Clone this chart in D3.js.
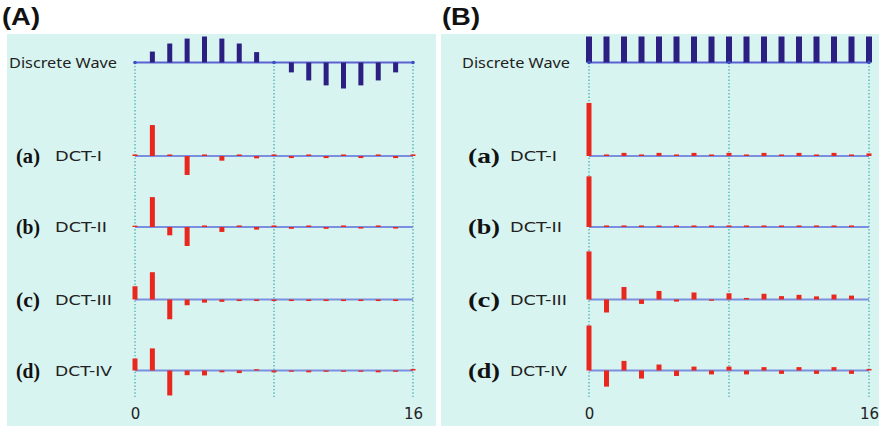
<!DOCTYPE html>
<html>
<head>
<meta charset="utf-8">
<script src="https://cdn.jsdelivr.net/npm/d3@7"></script>
<style>
  html, body { margin: 0; padding: 0; background: #ffffff; }
  svg { display: block; }
</style>
</head>
<body>
<svg id="chart" width="879" height="426"></svg>
<script>
// Sample positions along the signal (0..16)
const sampleIndex = [0, 1, 2, 3, 4, 5, 6, 7, 8, 9, 10, 11, 12, 13, 14, 15, 16];
const gridIndex = [0, 8, 16];
const tickValues = [0, 16];
const tickLabels = ["0", "16"];

// Row captions
const rowLetters = ["(a)", "(b)", "(c)", "(d)"];
const rowNames = ["DCT-I", "DCT-II", "DCT-III", "DCT-IV"];
const waveName = "Discrete Wave";
const panelTitles = ["(A)", "(B)"];

// (A) one period of a sine wave
const waveA = [0, 0.42, 0.73, 0.92, 1, 0.92, 0.73, 0.40, 0, -0.38, -0.69, -0.88, -1, -0.88, -0.69, -0.38, 0];
// (B) constant signal
const waveB = [1, 1, 1, 1, 1, 1, 1, 1, 1, 1, 1, 1, 1, 1, 1, 1, 1];

// Transform coefficients for the sine wave
const dctA1 = [0.06, 1.19, 0.06, -0.73, 0.06, -0.18, 0.06, -0.09, 0.06, -0.08, 0.06, -0.08, 0.06, -0.08, 0.06, -0.08, 0.06];
const dctA2 = [0.05, 1.15, -0.32, -0.73, 0.06, -0.19, 0.06, -0.10, 0.06, -0.07, 0.06, -0.07, 0.06, -0.06, 0.06, -0.06, 0];
const dctA3 = [0.51, 1.05, -0.76, -0.22, -0.12, -0.09, -0.06, -0.06, -0.06, -0.06, -0.06, -0.06, -0.06, -0.06, -0.06, -0.06, 0];
const dctA4 = [0.46, 0.85, -0.96, -0.18, -0.19, -0.07, -0.10, 0.05, -0.07, -0.05, -0.07, -0.05, -0.05, -0.05, -0.07, -0.05, 0.06];

// Transform coefficients for the constant signal
const dctB1 = [2.04, 0.06, 0.12, 0.06, 0.12, 0.06, 0.12, 0.06, 0.12, 0.06, 0.12, 0.06, 0.12, 0.06, 0.12, 0.06, 0.10];
const dctB2 = [1.95, 0.06, 0.06, 0.06, 0.06, 0.06, 0.06, 0.06, 0.06, 0.06, 0.06, 0.06, 0.06, 0.06, 0.06, 0.06, 0];
const dctB3 = [1.85, -0.50, 0.48, -0.17, 0.33, -0.08, 0.27, -0.05, 0.24, 0.06, 0.22, 0.13, 0.18, 0.12, 0.19, 0.15, 0];
const dctB4 = [1.73, -0.62, 0.37, -0.31, 0.23, -0.21, 0.15, -0.15, 0.15, -0.15, 0.13, -0.13, 0.13, -0.13, 0.13, -0.13, 0.06];

const panels = [
  { title: panelTitles[0], bg: [7, 436], range: [135, 413], titleX: 2, waveX: 9, letterX: 16, nameX: 55,
    letterW: 24, waveBarW: 5, wave: waveA, dct: [dctA1, dctA2, dctA3, dctA4] },
  { title: panelTitles[1], bg: [441, 879], range: [589, 869], titleX: 442, waveX: 462, letterX: 468, nameX: 510,
    letterW: 32, waveBarW: 6, wave: waveB, dct: [dctB1, dctB2, dctB3, dctB4] }
];

const rowY = [62.5, 156, 227, 299.5, 370.5];
const nameW = { "DCT-I": 47, "DCT-II": 52, "DCT-III": 57, "DCT-IV": 57 };

const svg = d3.select("#chart");
const amp = d3.scaleLinear().domain([0, 1]).range([0, -26]);

function stretchedText(g, txt, x, y, width, cls) {
  return g.append("text")
    .attr("class", cls)
    .attr("x", x).attr("y", y)
    .attr("textLength", width)
    .attr("lengthAdjust", "spacingAndGlyphs")
    .text(txt);
}

function drawBars(g, x, y0, values, width, color) {
  g.selectAll(null)
    .data(values.map((v, i) => ({ i: sampleIndex[i], v })))
    .join("rect")
    .filter(d => d.v !== 0)
    .attr("x", d => x(d.i) - width / 2)
    .attr("y", d => y0 + Math.min(0, amp(d.v)))
    .attr("width", width)
    .attr("height", d => Math.abs(amp(d.v)))
    .attr("fill", color);
}

panels.forEach(p => {
  const g = svg.append("g");
  const x = d3.scaleLinear().domain([0, 16]).range(p.range);

  // panel background
  g.append("rect")
    .attr("x", p.bg[0]).attr("y", 34)
    .attr("width", p.bg[1] - p.bg[0]).attr("height", 426 - 34)
    .attr("fill", "#d8f4f0");

  // panel title
  g.append("text")
    .attr("x", p.titleX).attr("y", 25)
    .attr("textLength", 38).attr("lengthAdjust", "spacingAndGlyphs")
    .style("font", "bold 23px 'Liberation Sans', Arial, sans-serif")
    .attr("fill", "#111")
    .text(p.title);

  // dotted guide lines
  g.selectAll(null).data(gridIndex).join("line")
    .attr("x1", d => x(d)).attr("x2", d => x(d))
    .attr("y1", rowY[0]).attr("y2", 398)
    .attr("stroke", "#4fb4b8").attr("stroke-width", 1.4)
    .attr("stroke-dasharray", "1.4,2");

  // discrete wave row
  g.append("line")
    .attr("x1", x(0)).attr("x2", x(16))
    .attr("y1", rowY[0]).attr("y2", rowY[0])
    .attr("stroke", "#5a62d2").attr("stroke-width", 2);
  drawBars(g, x, rowY[0], p.wave, p.waveBarW, "#2c1f82");
  g.selectAll(null).data(gridIndex).join("circle")
    .attr("cx", d => x(d)).attr("cy", rowY[0]).attr("r", 1.8)
    .attr("fill", "#3a50c0");
  stretchedText(g, waveName, p.waveX, rowY[0] + 5, 108, "wave")
    .style("font", "14px 'Noto Sans', sans-serif").attr("fill", "#222");

  // coefficient rows
  p.dct.forEach((vals, r) => {
    const y0 = rowY[r + 1];
    g.append("line")
      .attr("x1", x(0)).attr("x2", x(16))
      .attr("y1", y0).attr("y2", y0)
      .attr("stroke", "#7a8fe0").attr("stroke-width", 2);
    drawBars(g, x, y0, vals, 5, "#e8281e");
    stretchedText(g, rowLetters[r], p.letterX, y0 + 7, p.letterW, "letter")
      .style("font", "bold 21px 'Liberation Serif', 'Times New Roman', serif").attr("fill", "#111");
    stretchedText(g, rowNames[r], p.nameX, y0 + 5, nameW[rowNames[r]], "name")
      .style("font", "14px 'DejaVu Sans', sans-serif").attr("fill", "#222");
  });

  // index axis
  const axis = d3.axisBottom(x)
    .tickValues(tickValues)
    .tickSize(0)
    .tickFormat((d, i) => tickLabels[i]);
  const ax = g.append("g").attr("transform", "translate(0,405)").call(axis);
  ax.select(".domain").remove();
  ax.selectAll("text")
    .style("font", "15px 'DejaVu Sans', sans-serif")
    .attr("fill", "#222");
});
</script>
</body>
</html>
